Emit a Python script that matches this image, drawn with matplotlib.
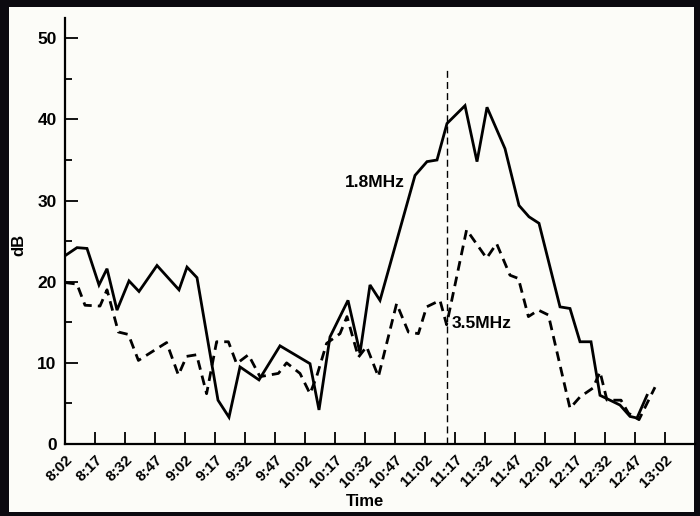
import matplotlib
matplotlib.use("Agg")
import matplotlib.pyplot as plt
from matplotlib.patches import Rectangle
from matplotlib.ticker import MultipleLocator

plt.rcParams["font.family"] = ["Liberation Sans", "DejaVu Sans"]

# minutes after 8:02 and signal level in dB
t_18 = [0, 6, 11, 17, 21, 26, 32, 37, 46, 57, 61, 66, 76.5, 82, 87.5, 97,
        107.5, 122.5, 127, 132.5, 141.5, 147.5, 152.5, 157.5, 175, 181, 186,
        191, 200, 206, 211, 220, 227, 232, 237, 247.5, 252.5, 257.5, 263,
        267.5, 277.5, 282.5, 286, 291]
db_18 = [23.2, 24.2, 24.1, 19.6, 21.6, 16.5, 20.1, 18.8, 22.0, 19.0, 21.8,
         20.5, 5.4, 3.3, 9.5, 7.9, 12.1, 9.9, 4.2, 13.2, 17.7, 11.2, 19.6,
         17.7, 33.1, 34.8, 35.0, 39.5, 41.7, 34.8, 41.5, 36.4, 29.4, 28.0,
         27.2, 16.9, 16.7, 12.6, 12.6, 6.0, 4.8, 3.4, 3.2, 6.0]

t_35 = [0, 6, 10, 17.5, 21, 26.7, 31.7, 36.7, 45, 50.8, 56.7, 60.8, 65.8,
        70.8, 75.8, 81.7, 85.8, 91.7, 97.5, 106.7, 110.8, 117.5, 122.5,
        125.8, 130.8, 137.5, 141, 146.7, 150.8, 156.7, 165.8, 171.7, 176.7,
        180.8, 187.5, 190.8, 200.8, 210.8, 215.8, 222.5, 226.7, 231.7, 236.7,
        241.7, 252.5, 257.5, 264, 267.5, 271, 278, 281.7, 287, 295]
db_35 = [19.9, 19.7, 17.1, 17.0, 19.0, 13.8, 13.5, 10.3, 11.6, 12.5, 8.5,
         10.8, 11.0, 6.2, 12.6, 12.6, 9.9, 11.0, 8.3, 8.7, 10.0, 8.7, 6.2,
         8.3, 12.4, 13.6, 15.7, 10.7, 12.0, 8.3, 17.3, 13.8, 13.6, 16.9, 17.7,
         14.7, 26.4, 22.9, 24.7, 20.8, 20.4, 15.7, 16.5, 15.9, 4.4, 5.8, 6.9,
         8.9, 5.4, 5.4, 3.8, 3.0, 7.0]

tick_labels = ["8:02", "8:17", "8:32", "8:47", "9:02", "9:17", "9:32", "9:47",
               "10:02", "10:17", "10:32", "10:47", "11:02", "11:17", "11:32",
               "11:47", "12:02", "12:17", "12:32", "12:47", "13:02"]
marker_t = 190.8  # vertical dashed marker

fig = plt.figure(figsize=(7.0, 5.16), dpi=100, facecolor="#0c0a10")
fig.patches.append(Rectangle((9 / 700, 1 - 512 / 516), 685 / 700, 505 / 516,
                             transform=fig.transFigure, facecolor="#fcfcf8",
                             edgecolor="none", zorder=-10))

ax = fig.add_axes([65 / 700, 1 - 444 / 516, 630 / 700, 426 / 516])
ax.set_facecolor("none")

ax.plot(t_18, db_18, color="black", lw=2.0, solid_joinstyle="miter")
ax.plot(t_35, db_35, color="black", lw=2.0, linestyle=(0, (3.5, 2.2)))
ax.plot([marker_t, marker_t], [0, 46.5], color="black", lw=1.0,
        linestyle=(0, (5, 3)))

ax.text(170, 32.2, "1.8MHz", ha="right", va="center", fontsize=12.5,
        fontweight="bold")
ax.text(193.5, 14.9, "3.5MHz", ha="left", va="center", fontsize=12.5,
        fontweight="bold")

ax.set_xlim(0, 315)
ax.set_ylim(0, 52.5)
ax.set_xticks([15 * i for i in range(len(tick_labels))])
ax.set_xticklabels(tick_labels, rotation=45, ha="right", va="top",
                   rotation_mode="anchor", fontsize=11, fontweight="bold")
ax.yaxis.set_major_locator(MultipleLocator(10))
ax.yaxis.set_minor_locator(MultipleLocator(5))
for lab in ax.get_yticklabels():
    lab.set_fontsize(12.5)
    lab.set_fontweight("bold")

ax.tick_params(axis="both", which="both", direction="in", width=1.3,
               color="black")
ax.tick_params(axis="y", which="major", length=9, pad=6)
ax.tick_params(axis="y", which="minor", length=5)
ax.tick_params(axis="x", length=9, pad=6)

for side in ("top", "right"):
    ax.spines[side].set_visible(False)
for side in ("left", "bottom"):
    ax.spines[side].set_linewidth(1.6)

fig.text(365 / 700, 1 - 502 / 516, "Time", ha="center", va="center",
         fontsize=12, fontweight="bold")
fig.text(19 / 700, 1 - 245 / 516, "dB", ha="center", va="center",
         rotation=90, fontsize=12, fontweight="bold")

fig.savefig("out.png", dpi=100, facecolor=fig.get_facecolor())
